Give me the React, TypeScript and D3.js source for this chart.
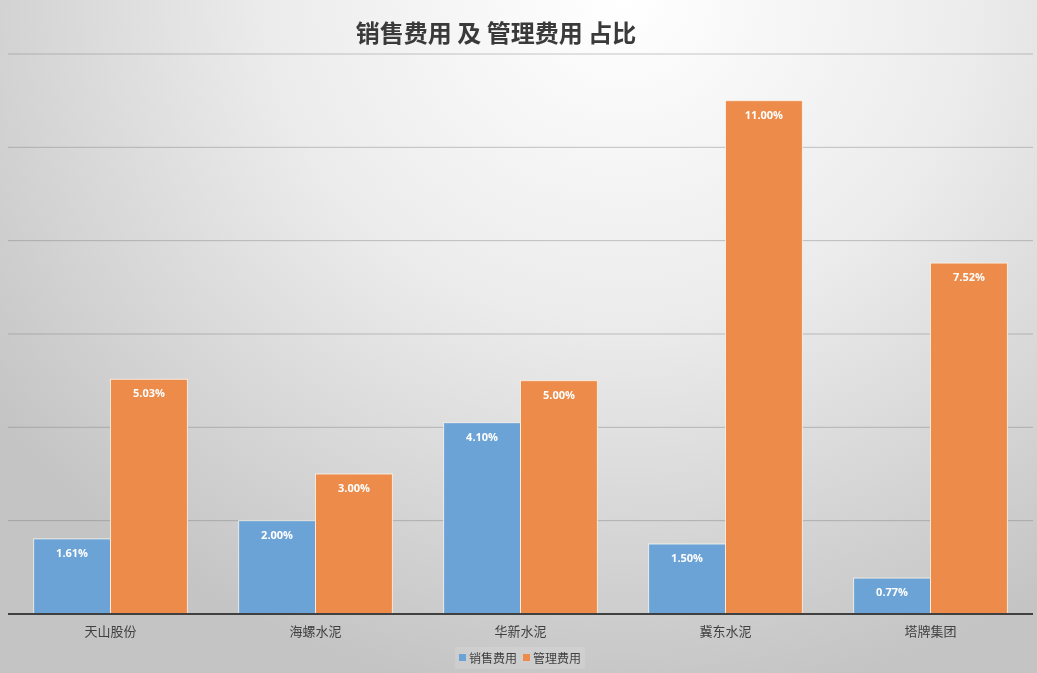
import React from "react";
import * as d3 from "d3";

const categories = ["天山股份", "海螺水泥", "华新水泥", "冀东水泥", "塔牌集团"];
const salesExpense = [1.61, 2.0, 4.1, 1.5, 0.77];
const adminExpense = [5.03, 3.0, 5.0, 11.0, 7.52];
const seriesNames = ["销售费用", "管理费用"];
const yTicks = [0, 2, 4, 6, 8, 10, 12];
const title = "销售费用 及 管理费用 占比";

const W = 1037;
const H = 673;
const colors = ["#6ca3d7", "#ec8b4a"];

export default function App() {
  const left = 8;
  const right = 1033;
  const top = 54;
  const bottom = 614;

  const x0 = d3.scaleBand<string>().domain(categories).range([left, right]).paddingInner(0.25).paddingOuter(0.125);
  const x1 = d3.scaleBand<string>().domain(seriesNames).range([0, x0.bandwidth()]).padding(0);
  const y = d3.scaleLinear().domain([0, 12]).range([bottom, top]);
  const series = [salesExpense, adminExpense];
  const font = "'Open Sans', 'Noto Sans CJK SC', sans-serif";

  return (
    <svg
      width={W}
      height={H}
      style={{ position: "fixed", left: 0, top: 0 }}
      fontFamily={font}
    >
      <defs>
        <radialGradient id="bg" cx="0.6" cy="0" r="0.75" gradientTransform="scale(1,1.4)">
          <stop offset="0" stopColor="#ffffff" />
          <stop offset="0.45" stopColor="#ececec" />
          <stop offset="1" stopColor="#c4c4c4" />
        </radialGradient>
      </defs>
      <rect x={0} y={0} width={W} height={H} fill="url(#bg)" />
      <text
        x={496}
        y={42}
        textAnchor="middle"
        fontSize={24}
        fontWeight="bold"
        fill="#3a3a3a"
        fontFamily="'Noto Sans CJK SC', sans-serif"
      >
        {title}
      </text>
      {yTicks.slice(1).map((t) => (
        <line key={t} x1={left} x2={right} y1={y(t)} y2={y(t)} stroke="#808080" strokeOpacity={0.45} strokeWidth={1} />
      ))}
      {categories.map((c, i) => (
        <g key={c} transform={`translate(${x0(c)},0)`}>
          {seriesNames.map((s, k) => {
            const v = series[k][i];
            const bx = x1(s)!;
            const by = y(v);
            return (
              <g key={s}>
                <rect
                  x={bx}
                  y={by}
                  width={x1.bandwidth()}
                  height={y(0) - by}
                  fill={colors[k]}
                  stroke="#fff6ea"
                  strokeOpacity={0.8}
                  strokeWidth={1}
                />
                <text
                  x={bx + x1.bandwidth() / 2}
                  y={by + 18}
                  textAnchor="middle"
                  fontSize={11}
                  fontWeight="bold"
                  fill="#ffffff"
                >
                  {v.toFixed(2) + "%"}
                </text>
              </g>
            );
          })}
          <text
            x={x0.bandwidth() / 2}
            y={636}
            textAnchor="middle"
            fontSize={13}
            fill="#404040"
            fontFamily="'Noto Sans CJK SC', sans-serif"
          >
            {c}
          </text>
        </g>
      ))}
      <line x1={left} x2={right} y1={y(0)} y2={y(0)} stroke="#404040" strokeWidth={2} />
      <g fontFamily="'Noto Sans CJK SC', sans-serif" fontSize={12} fill="#404040">
        <rect x={455} y={647} width={130} height={22} fill="#ffffff" fillOpacity={0.12} />
        <rect x={459} y={654} width={7} height={7} fill={colors[0]} />
        <text x={469} y={662.5}>{seriesNames[0]}</text>
        <rect x={523} y={654} width={7} height={7} fill={colors[1]} />
        <text x={533} y={662.5}>{seriesNames[1]}</text>
      </g>
    </svg>
  );
}
